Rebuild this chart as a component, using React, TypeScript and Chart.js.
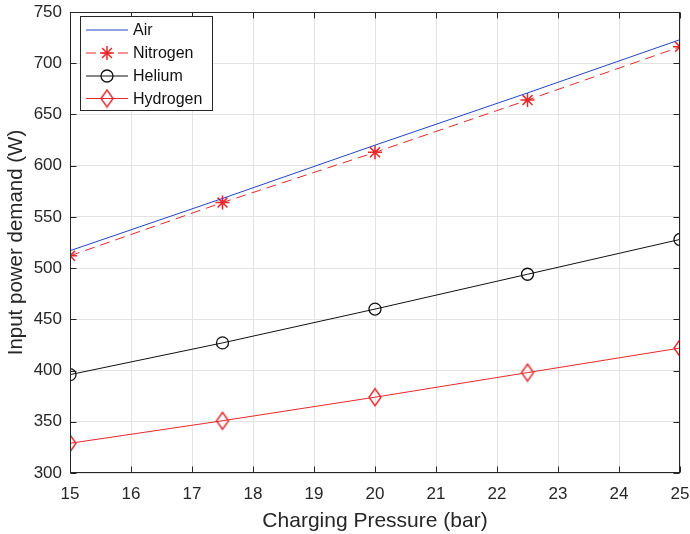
import React, { useEffect, useRef } from "react";
import { Chart, registerables } from "chart.js";

Chart.register(...registerables);

const pressures = [15, 17.5, 20, 22.5, 25];
const airDemand = [517, 568, 620, 671, 723];
const nitrogenDemand = [512, 564, 613, 664, 716];
const heliumDemand = [396, 427, 460, 494, 528];
const hydrogenDemand = [329, 351, 374, 398, 422];
const seriesNames = ["Air", "Nitrogen", "Helium", "Hydrogen"];
const xTicks = [15, 16, 17, 18, 19, 20, 21, 22, 23, 24, 25];
const yTicks = [300, 350, 400, 450, 500, 550, 600, 650, 700, 750];

const BLUE = "#2343c8";
const RED = "#e8282a";
const BLACK = "#111111";
const AXIS = "#262626";
const GRID = "#e3e3e3";
const FONT = "'Liberation Sans', Arial, Helvetica, sans-serif";

function makeDiamond(color: string) {
  const c = document.createElement("canvas");
  c.width = 16;
  c.height = 20;
  const ctx = c.getContext("2d")!;
  ctx.strokeStyle = color;
  ctx.lineWidth = 1.4;
  ctx.beginPath();
  ctx.moveTo(8, 1.5);
  ctx.lineTo(14, 10);
  ctx.lineTo(8, 18.5);
  ctx.lineTo(2, 10);
  ctx.closePath();
  ctx.stroke();
  return c;
}

function drawStar(ctx: CanvasRenderingContext2D, x: number, y: number, r: number) {
  ctx.beginPath();
  ctx.moveTo(x - r, y);
  ctx.lineTo(x + r, y);
  ctx.moveTo(x, y - r);
  ctx.lineTo(x, y + r);
  const d = r * Math.SQRT1_2;
  ctx.moveTo(x - d, y - d);
  ctx.lineTo(x + d, y + d);
  ctx.moveTo(x - d, y + d);
  ctx.lineTo(x + d, y - d);
  ctx.stroke();
}

export default function App() {
  const ref = useRef<HTMLCanvasElement | null>(null);

  useEffect(() => {
    const canvas = ref.current!;
    const diamond = makeDiamond(RED);
    const toPts = (vals: number[]) => pressures.map((p, i) => ({ x: p, y: vals[i] }));

    const overlay = {
      id: "matlabOverlay",
      afterDraw(chart: any) {
        const ctx: CanvasRenderingContext2D = chart.ctx;
        const { left, right, top, bottom } = chart.chartArea;
        const xs = chart.scales.x;
        const ys = chart.scales.y;
        const L = Math.round(left) + 0.5;
        const R = Math.round(right) - 0.5;
        const T = Math.round(top) + 0.5;
        const B = Math.round(bottom) - 0.5;
        ctx.save();
        ctx.strokeStyle = AXIS;
        ctx.lineWidth = 1;
        ctx.setLineDash([]);
        ctx.strokeRect(L, T, R - L, B - T);
        const tl = 6;
        ctx.beginPath();
        for (const v of xTicks) {
          const px = Math.round(xs.getPixelForValue(v)) + 0.5;
          ctx.moveTo(px, B);
          ctx.lineTo(px, B - tl);
          ctx.moveTo(px, T);
          ctx.lineTo(px, T + tl);
        }
        for (const v of yTicks) {
          const py = Math.round(ys.getPixelForValue(v)) + 0.5;
          ctx.moveTo(L, py);
          ctx.lineTo(L + tl, py);
          ctx.moveTo(R, py);
          ctx.lineTo(R - tl, py);
        }
        ctx.stroke();

        // axis titles
        ctx.fillStyle = AXIS;
        ctx.textAlign = "center";
        ctx.textBaseline = "alphabetic";
        ctx.font = `21px ${FONT}`;
        ctx.fillText("Charging Pressure (bar)", (left + right) / 2, 527);
        ctx.font = `20.5px ${FONT}`;
        ctx.save();
        ctx.translate(22, (top + bottom) / 2);
        ctx.rotate(-Math.PI / 2);
        ctx.fillText("Input power demand (W)", 0, 0);
        ctx.restore();

        // legend
        const bx = 80.5, by = 16.5, bw = 132, bh = 94;
        ctx.fillStyle = "#ffffff";
        ctx.fillRect(bx, by, bw, bh);
        ctx.strokeStyle = AXIS;
        ctx.lineWidth = 1;
        ctx.strokeRect(bx, by, bw, bh);
        const rows = [30, 53, 76, 98.5];
        const x1 = 86, x2 = 128, mx = 107;
        ctx.font = `16px ${FONT}`;
        ctx.textAlign = "left";
        ctx.textBaseline = "middle";
        rows.forEach((ry, i) => {
          ctx.lineWidth = 1;
          ctx.setLineDash([]);
          if (i === 0) {
            ctx.strokeStyle = BLUE;
            ctx.beginPath(); ctx.moveTo(x1, ry); ctx.lineTo(x2, ry); ctx.stroke();
          } else if (i === 1) {
            ctx.strokeStyle = RED;
            ctx.setLineDash([10, 6]);
            ctx.beginPath(); ctx.moveTo(x1, ry); ctx.lineTo(x2, ry); ctx.stroke();
            ctx.setLineDash([]);
            ctx.lineWidth = 1.5;
            drawStar(ctx, mx, ry, 7);
          } else if (i === 2) {
            ctx.strokeStyle = BLACK;
            ctx.beginPath(); ctx.moveTo(x1, ry); ctx.lineTo(x2, ry); ctx.stroke();
            ctx.lineWidth = 1.3;
            ctx.beginPath(); ctx.arc(mx, ry, 6, 0, Math.PI * 2); ctx.stroke();
          } else {
            ctx.strokeStyle = RED;
            ctx.beginPath(); ctx.moveTo(x1, ry); ctx.lineTo(x2, ry); ctx.stroke();
            ctx.drawImage(diamond, mx - 8, ry - 10);
          }
          ctx.fillStyle = "#111111";
          ctx.fillText(seriesNames[i], 133, ry + 1);
        });
        ctx.restore();
      },
    };

    const chart = new Chart(canvas, {
      type: "line",
      data: {
        datasets: [
          {
            label: seriesNames[0],
            data: toPts(airDemand),
            borderColor: BLUE,
            backgroundColor: BLUE,
            borderWidth: 1,
            pointRadius: 0,
            tension: 0,
          },
          {
            label: seriesNames[1],
            data: toPts(nitrogenDemand),
            borderColor: RED,
            backgroundColor: "transparent",
            borderWidth: 1,
            borderDash: [10, 6],
            pointStyle: "star",
            pointRadius: 7,
            pointBorderWidth: 1.5,
            pointBorderColor: RED,
            tension: 0,
          },
          {
            label: seriesNames[2],
            data: toPts(heliumDemand),
            borderColor: BLACK,
            backgroundColor: "transparent",
            borderWidth: 1,
            pointStyle: "circle",
            pointRadius: 6,
            pointBorderWidth: 1.3,
            pointBorderColor: BLACK,
            pointBackgroundColor: "transparent",
            tension: 0,
          },
          {
            label: seriesNames[3],
            data: toPts(hydrogenDemand),
            borderColor: RED,
            backgroundColor: "transparent",
            borderWidth: 1,
            pointStyle: diamond as any,
            pointRadius: 9,
            tension: 0,
          },
        ],
      },
      options: {
        responsive: false,
        animation: false,
        layout: { padding: { left: 0, right: 10, top: 12, bottom: 0 } },
        plugins: { legend: { display: false }, tooltip: { enabled: false } },
        scales: {
          x: {
            type: "linear",
            min: 15,
            max: 25,
            afterFit: (s: any) => { s.height = 61; s.paddingLeft = 0; s.paddingRight = 0; },
            afterBuildTicks: (s: any) => { s.ticks = xTicks.map((v) => ({ value: v })); },
            grid: { color: GRID, drawTicks: false, lineWidth: 1 },
            border: { display: false },
            ticks: { color: AXIS, font: { family: FONT, size: 17 }, padding: 11, maxRotation: 0 },
          },
          y: {
            type: "linear",
            min: 300,
            max: 750,
            afterFit: (s: any) => { s.width = 70; s.paddingTop = 0; s.paddingBottom = 0; },
            afterBuildTicks: (s: any) => { s.ticks = yTicks.map((v) => ({ value: v })); },
            grid: { color: GRID, drawTicks: false, lineWidth: 1 },
            border: { display: false },
            ticks: { color: AXIS, font: { family: FONT, size: 17 }, padding: 8 },
          },
        },
      },
      plugins: [overlay],
    });
    return () => chart.destroy();
  }, []);

  return (
    <div style={{ position: "fixed", left: 0, top: 0, width: 690, height: 534, background: "#fff" }}>
      <canvas ref={ref} width={690} height={534} style={{ display: "block" }} />
    </div>
  );
}
